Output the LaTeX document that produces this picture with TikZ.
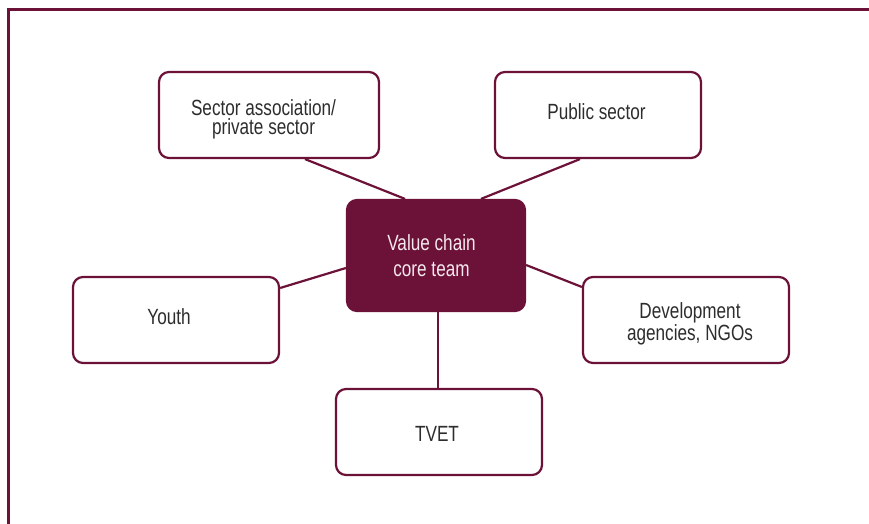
\documentclass[tikz,border=0pt]{standalone}
\usepackage{fontspec}
\setmainfont[FakeStretch=0.78]{Liberation Sans}
\usetikzlibrary{calc}
\definecolor{maroon}{RGB}{108,17,55}
\definecolor{txtgray}{RGB}{45,45,45}
\definecolor{coretxt}{RGB}{245,232,238}
\tikzset{
  framebox/.style={draw=maroon, line width=2.2pt, rounded corners=10pt, fill=white, inner sep=0pt},
  corebox/.style={draw=maroon, line width=2.2pt, rounded corners=10pt, fill=maroon, inner sep=0pt},
  lbl/.style={inner sep=0pt, anchor=base, align=center, text=txtgray, font=\fontsize{22}{20}\selectfont},
  corelbl/.style={inner sep=0pt, anchor=base, align=center, text=coretxt, font=\fontsize{22}{26}\selectfont},
  link/.style={draw=maroon, line width=2.2pt}
}
\begin{document}
\begin{tikzpicture}[x=1pt, y=-1pt]
\useasboundingbox (0,0) rectangle (869,524);
% frame
\draw[maroon, line width=3pt] (875,10) -- (8,10) -- (8,530);
% boxes
\node[framebox, minimum width=220pt, minimum height=86pt] (sec) at (269,115) {};
\node[framebox, minimum width=206pt, minimum height=86pt] (pub) at (598,115) {};
\node[corebox, minimum width=178pt, minimum height=111pt] (core) at (436,255.5) {};
\node[framebox, minimum width=206pt, minimum height=86pt] (youth) at (176,320) {};
\node[framebox, minimum width=206pt, minimum height=86pt] (dev) at (686,320) {};
\node[framebox, minimum width=206pt, minimum height=86pt] (tvet) at (439,432) {};
% connectors
\draw[link] ($(sec.south)+(36,0)$) -- ($(core.north)+(-31,0)$);
\draw[link] ($(pub.south)+(-18,0)$) -- ($(core.north)+(45,0)$);
\draw[link] ($(youth.east)+(0,-32)$) -- ($(core.west)+(0,12.5)$);
\draw[link] ($(dev.west)+(0,-33)$) -- ($(core.east)+(0,9.5)$);
\draw[link] ($(tvet.north)+(-1,0)$) -- ($(core.south)+(2,0)$);
% labels (base anchor = baseline of last line)
\node[lbl] (secl) at (263.5,135) {Sector association/\\private sector};
\node[lbl] (publ) at (596.5,120) {Public sector};
\node[corelbl] (corel) at (431.5,276) {Value chain\\core team};
\node[lbl] (youthl) at (169,324) {Youth};
\node[lbl] (devl) at (690,340) {Development\\agencies, NGOs};
\node[lbl] (tvetl) at (437,441) {TVET};
\end{tikzpicture}
\end{document}
